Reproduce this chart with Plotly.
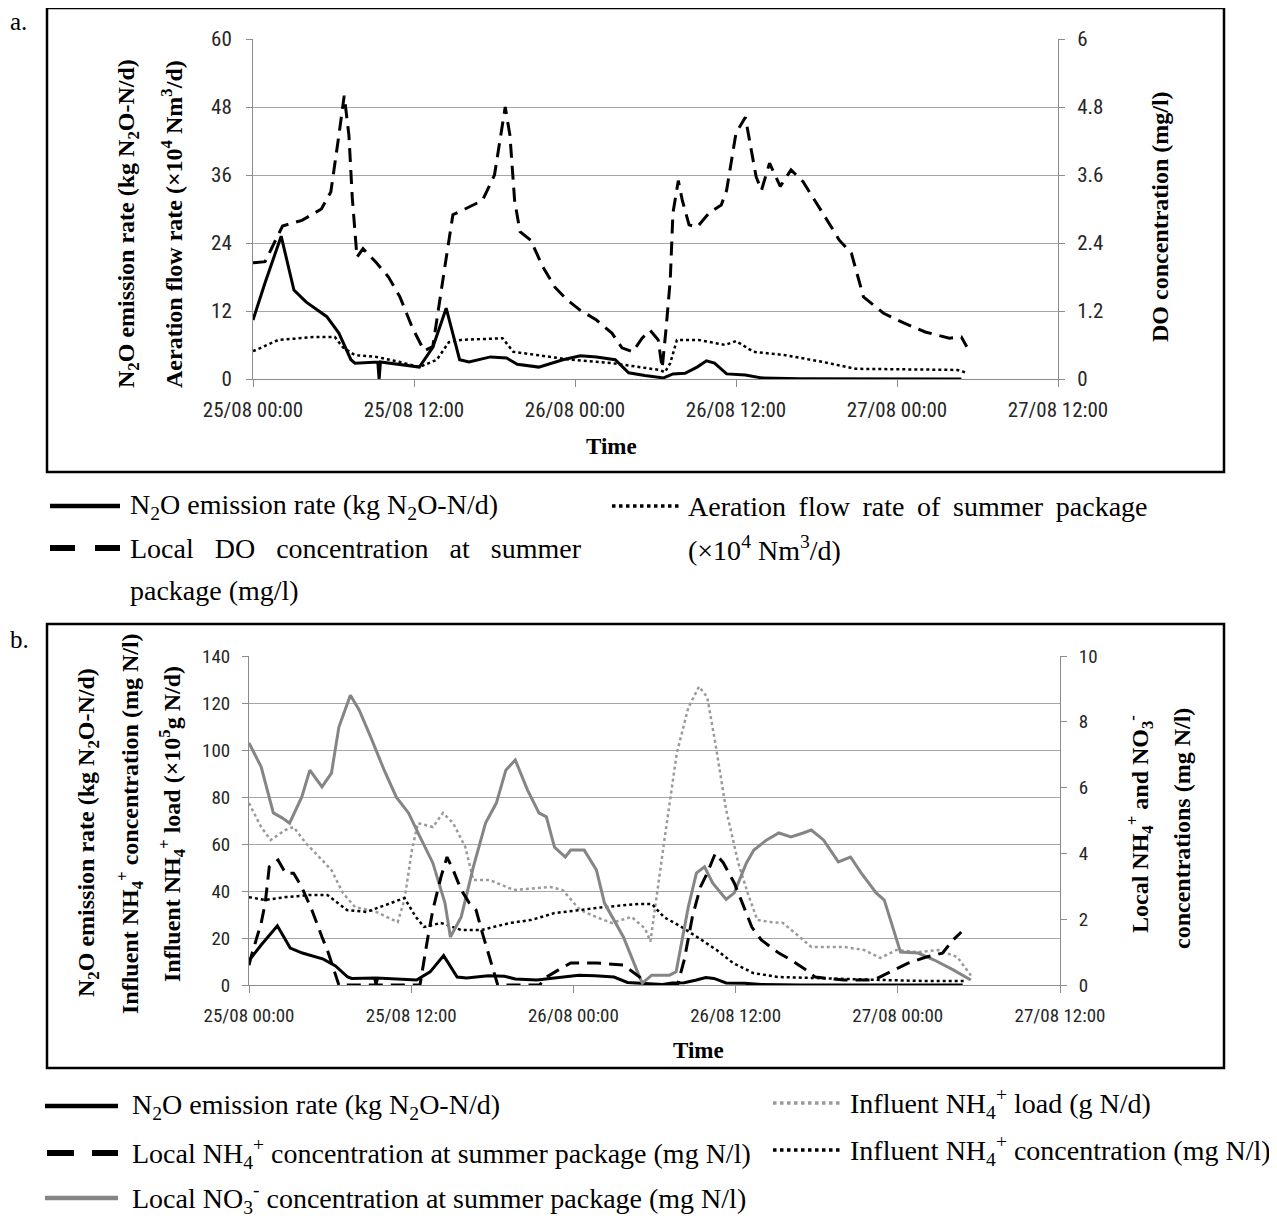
import plotly.graph_objects as go

# page size and the browser's default 8px body margin
PAGE_W, PAGE_H = 1277, 1218
OFF = 8
W, H = PAGE_W - OFF, PAGE_H - OFF

# ---------------- data ----------------
x_ticks = [0, 12, 24, 36, 48, 60]
x_labels = ["25/08 00:00", "25/08 12:00", "26/08 00:00", "26/08 12:00", "27/08 00:00", "27/08 12:00"]

# Panel a (hours since 25/08 00:00)
n2o_t = [0, 0.9, 2.1, 3.05, 3.95, 5.5, 6.4, 7.3, 7.6, 9.3, 9.4, 9.5, 12.4, 13.4, 14.4, 15.4, 16.1, 17.7,
         18.9, 19.7, 21.3, 23.1, 24.4, 25.6, 27.0, 28.0, 29.2, 30.6, 31.3, 32.2, 33.1, 33.8, 34.4, 35.3,
         36.7, 37.9, 40.8, 52.8]
n2o_v = [10.4, 17, 25.2, 15.7, 13.6, 11, 8.1, 3.4, 2.8, 3.0, 0, 3.0, 2.1, 5.6, 12.5, 3.4, 3, 3.9,
         3.7, 2.6, 2.1, 3.4, 4.1, 3.9, 3.4, 1.1, 0.6, 0.2, 0.9, 1.0, 2.1, 3.2, 2.8, 0.9,
         0.7, 0.2, 0.05, 0.0]

air_t = [0, 1.9, 3.05, 4.5, 6.1, 6.7, 7.6, 9.2, 10.95, 12.4, 13.7, 14.6, 15.5, 18.6, 19.4, 21.3, 23.7,
         26.75, 28.8, 30.3, 30.7, 31.1, 31.6, 33.2, 35.2, 36.0, 37.3, 39.7, 42.5, 44.9, 52.5, 53.2]
air_v = [4.9, 6.9, 7.1, 7.4, 7.4, 5.6, 4.2, 3.9, 3.0, 2.1, 3.4, 6.5, 6.9, 7.2, 4.8, 4.2, 3.4,
         2.8, 2.1, 1.6, 1.2, 2.8, 6.9, 6.9, 6.0, 6.7, 4.8, 4.2, 3.0, 1.8, 1.6, 1.1]

do_t = [0, 0.9, 2.2, 3.65, 5.1, 5.8, 6.4, 6.8, 7.15, 7.4, 7.75, 8.2, 9.2, 10.1, 10.95, 11.85, 12.75,
        13.4, 14.3, 14.9, 15.8, 17.1, 18.0, 18.8, 19.15, 19.5, 19.9, 20.7, 21.6, 22.5, 23.4, 24.35,
        25.6, 26.75, 27.5, 28.3, 29.0, 29.6, 30.2, 30.5, 30.8, 31.1, 31.3, 31.7, 32.0, 32.5, 33.1,
        34.0, 34.9, 35.3, 36.0, 36.7, 37.0, 37.5, 37.9, 38.5, 39.3, 40.1, 41.0, 41.9, 42.8, 43.7,
        44.6, 45.5, 46.1, 47.0, 48.5, 50.1, 51.9, 52.8, 53.2]
do_v = [2.05, 2.07, 2.7, 2.8, 3.0, 3.3, 4.3, 5.0, 4.3, 3.2, 2.15, 2.3, 2.05, 1.8, 1.45, 0.92, 0.5,
        0.57, 1.98, 2.9, 3.0, 3.15, 3.6, 4.8, 4.3, 3.15, 2.6, 2.45, 1.98, 1.62, 1.4, 1.22,
        1.04, 0.81, 0.55, 0.48, 0.72, 0.86, 0.69, 0.19, 0.92, 1.75, 2.93, 3.5, 3.15, 2.72, 2.68,
        2.93, 3.07, 3.33, 4.34, 4.62, 4.22, 3.57, 3.33, 3.81, 3.4, 3.69, 3.48, 3.15, 2.8, 2.45,
        2.22, 1.45, 1.34, 1.16, 0.99, 0.83, 0.72, 0.74, 0.57]

# Panel b
no3_t = [0, 0.9, 1.8, 2.45, 3.0, 3.9, 4.5, 5.4, 6.1, 6.65, 7.5, 8.15, 9.0, 10.0, 10.9, 11.8, 12.65,
         13.6, 14.5, 14.9, 15.7, 16.6, 17.5, 18.3, 19.0, 19.7, 20.6, 21.45, 22.0, 22.6, 23.4, 23.8,
         24.8, 25.7, 26.3, 27.7, 28.9, 29.1, 29.8, 31.1, 31.6, 32.5, 33.1, 33.7, 34.3, 35.3, 35.9,
         36.8, 37.35, 38.3, 39.2, 40.1, 41.0, 41.6, 42.5, 43.6, 44.5, 45.3, 46.4, 47.0, 48.2, 49.5,
         50.7, 52.1, 53.4]
no3_v = [7.36, 6.63, 5.23, 5.08, 4.92, 5.71, 6.53, 6.02, 6.44, 7.84, 8.81, 8.36, 7.54, 6.53, 5.71, 5.23, 4.5,
         3.71, 2.49, 1.46, 2.07, 3.59, 4.92, 5.53, 6.53, 6.84, 5.93, 5.23, 5.11, 4.19, 3.89, 4.1,
         4.1, 3.5, 2.49, 1.46, 0.24, 0.06, 0.3, 0.3, 0.4, 2.37, 3.4, 3.59, 3.1, 2.6, 2.8,
         3.71, 4.1, 4.41, 4.62, 4.5, 4.62, 4.71, 4.41, 3.74, 3.89, 3.4, 2.8, 2.58, 1.0, 0.97,
         0.76, 0.46, 0.15]

nh4_t = [0, 0.15, 0.9, 1.2, 1.5, 2.15, 2.7, 3.3, 3.9, 4.65, 5.4, 5.8, 6.65, 12.65, 13.2, 13.6, 14.2,
         14.65, 15.1, 15.7, 16.3, 16.8, 17.2, 17.7, 18.4, 21.5, 22.0, 22.9, 23.8, 25.7, 27.7, 28.9,
         29.5, 31.7, 32.2, 32.8, 33.4, 33.9, 34.5, 35.1, 35.9, 36.5, 37.2, 37.9, 39.2, 40.1, 41.0,
         41.9, 44.0, 46.2, 47.3, 48.8, 50.1, 51.3, 52.1, 52.7]
nh4_v = [0.6, 0.85, 1.88, 2.49, 3.59, 3.8, 3.4, 3.4, 2.98, 2.28, 1.46, 1.06, 0, 0, 1.37, 2.28, 3.28,
         3.89, 3.5, 2.89, 2.49, 2.28, 1.67, 0.97, 0, 0, 0.24, 0.46, 0.67, 0.67, 0.61, 0.24,
         0, 0, 0.76, 2.07, 2.98, 3.4, 4.0, 3.71, 3.1, 2.49, 1.76, 1.37, 0.97, 0.76, 0.52,
         0.24, 0.15, 0.15, 0.36, 0.67, 0.85, 0.97, 1.37, 1.61]

load_t = [0, 0.9, 1.6, 2.7, 3.3, 4.2, 5.4, 6.1, 6.95, 7.85, 9.4, 10.6, 11.0, 11.5, 12.05, 12.5, 13.6,
          14.35, 15.1, 16.0, 16.6, 17.8, 19.6, 22.3, 23.2, 24.5, 25.7, 26.85, 28.3, 29.3, 29.7, 30.7,
          31.65, 32.5, 33.3, 33.9, 34.5, 35.3, 36.2, 36.9, 37.6, 38.6, 39.5, 40.4, 41.6, 44.0, 45.5,
          46.7, 47.9, 49.5, 51.0, 52.4, 53.1, 53.55]
load_v = [77.4, 67.2, 61.7, 66, 67.2, 60.4, 53.2, 48.9, 39.1, 33.2, 31.1, 27.7, 26.8, 36.2, 57.4, 68.9, 67.2,
          73.2, 68.9, 58.7, 44.7, 44.7, 40.4, 41.7, 40.4, 31.9, 28.9, 26.4, 29, 24, 18.5, 60.4,
          98.7, 118, 127, 122.5, 103, 74.5, 51.9, 39.1, 27.7, 26.8, 26.4, 22.1, 16.2, 16.2, 14.9,
          11.5, 14.9, 14.0, 14.9, 11.9, 6.4, 3.0]

conc_t = [0, 1.2, 2.7, 4.5, 5.8, 7.25, 8.7, 10.6, 11.5, 12.35, 12.95, 14.2, 15.7, 17.2, 19.3, 20.9, 22.6,
          24.5, 26.3, 28.9, 29.8, 30.7, 32.0, 33.4, 34.6, 35.8, 37.3, 39.1, 41.0, 44.0, 47.0, 50.1, 53.1]
conc_v = [37.4, 36.2, 37.4, 38.3, 38.3, 31.9, 31.1, 34.9, 37, 28.9, 24.7, 26.4, 23.4, 23.4, 26.4, 27.7, 30.6,
          31.9, 33.2, 34.5, 34.5, 28.9, 24.7, 19.5, 14.9, 9.4, 5.1, 3.4, 3.0, 2.6, 2.1, 1.7, 1.7]

# ---------------- helpers (page pixel -> paper coords) ----------------
def PX(x):
    return (x - OFF) / W

def PY(y):
    return 1 - (y - OFF) / H

SERIF = "Liberation Serif, Times New Roman, serif"
TICKF = "Liberation Sans Narrow, Arial Narrow, Roboto Condensed, Roboto, sans-serif"
AX = "#8c8c8c"
GRID = "#a6a6a6"

fig = go.Figure()

# Panel a traces
fig.add_trace(go.Scatter(x=air_t, y=air_v, xaxis="x", yaxis="y", mode="lines",
                         line=dict(color="black", width=2.5, dash="dot")))
fig.add_trace(go.Scatter(x=do_t, y=do_v, xaxis="x", yaxis="y2", mode="lines",
                         line=dict(color="black", width=3, dash="14px,8px")))
fig.add_trace(go.Scatter(x=n2o_t, y=n2o_v, xaxis="x", yaxis="y", mode="lines",
                         line=dict(color="black", width=3)))

# Panel b traces
fig.add_trace(go.Scatter(x=load_t, y=load_v, xaxis="x2", yaxis="y3", mode="lines",
                         line=dict(color="#9a9a9a", width=2.5, dash="dot")))
fig.add_trace(go.Scatter(x=conc_t, y=conc_v, xaxis="x2", yaxis="y3", mode="lines",
                         line=dict(color="black", width=2.5, dash="dot")))
fig.add_trace(go.Scatter(x=no3_t, y=no3_v, xaxis="x2", yaxis="y4", mode="lines",
                         line=dict(color="#858585", width=3)))
fig.add_trace(go.Scatter(x=nh4_t, y=nh4_v, xaxis="x2", yaxis="y4", mode="lines",
                         line=dict(color="black", width=3, dash="14px,8px")))
fig.add_trace(go.Scatter(x=n2o_t, y=n2o_v, xaxis="x2", yaxis="y3", mode="lines",
                         line=dict(color="black", width=3)))

tickfont_a = dict(family=TICKF, size=21, color="#262626")
tickfont_b = dict(family=TICKF, size=19, color="#262626")

common_x = dict(range=[0, 60], tickvals=x_ticks, ticktext=x_labels, ticks="outside", ticklen=7,
                tickcolor=AX, showline=True, linecolor=AX, linewidth=1, showgrid=False, zeroline=False,
                automargin=False)
common_y = dict(ticks="outside", ticklen=6, tickcolor=AX, showline=True, linecolor=AX, linewidth=1,
                zeroline=False, automargin=False)

fig.update_layout(
    width=W, height=H, autosize=False, showlegend=False,
    margin=dict(l=0, r=0, t=0, b=0, pad=0),
    paper_bgcolor="white", plot_bgcolor="white",
    xaxis=dict(domain=[PX(253), PX(1058)], anchor="y", tickfont=tickfont_a, ticklabelstandoff=5, **common_x),
    yaxis=dict(domain=[PY(379), PY(39)], anchor="x", range=[0, 60], tick0=0, dtick=12,
               showgrid=True, gridcolor=GRID, gridwidth=1.2, tickfont=tickfont_a, ticklabelstandoff=10, **common_y),
    yaxis2=dict(overlaying="y", side="right", anchor="x", range=[0, 6],
                tickvals=[0, 1.2, 2.4, 3.6, 4.8, 6], ticktext=["0", "1.2", "2.4", "3.6", "4.8", "6"],
                showgrid=False, tickfont=tickfont_a, ticklabelstandoff=8, **common_y),
    xaxis2=dict(domain=[PX(249), PX(1060)], anchor="y3", tickfont=tickfont_b, ticklabelstandoff=6, **common_x),
    yaxis3=dict(domain=[PY(985), PY(656)], anchor="x2", range=[0, 140], tick0=0, dtick=20,
                showgrid=True, gridcolor=GRID, gridwidth=1.2, tickfont=tickfont_b, ticklabelstandoff=8, **common_y),
    yaxis4=dict(overlaying="y3", side="right", anchor="x2", range=[0, 10], tick0=0, dtick=2,
                showgrid=False, tickfont=tickfont_b, ticklabelstandoff=8, **common_y),
)

shapes = []
# frames
shapes.append(dict(type="rect", xref="paper", yref="paper", x0=PX(47), x1=PX(1224), y0=PY(472), y1=PY(8),
                   line=dict(color="black", width=2.5)))
shapes.append(dict(type="rect", xref="paper", yref="paper", x0=PX(47), x1=PX(1224), y0=PY(1068), y1=PY(624),
                   line=dict(color="black", width=2.5)))

def seg(x0, x1, y, color="black", width=4, dash="solid"):
    shapes.append(dict(type="line", xref="paper", yref="paper", x0=PX(x0), x1=PX(x1), y0=PY(y), y1=PY(y),
                       line=dict(color=color, width=width, dash=dash)))

# legend keys a
seg(50, 120, 506, width=4.5)
seg(50, 75, 548, width=6)
seg(95, 120, 548, width=6)
seg(612, 680, 506, width=3.5, dash="dot")
# legend keys b
seg(45, 118, 1106, width=4.5)
seg(47, 74, 1153, width=6)
seg(92, 118, 1153, width=6)
seg(45, 118, 1198, color="#858585", width=4.5)
seg(773, 840, 1103, color="#9a9a9a", width=3.5, dash="dot")
seg(773, 840, 1150, width=3.5, dash="dot")

fig.update_layout(shapes=shapes)

ann = []

def text(x, y, s, size=28, anchor="left", bold=False, angle=0, family=SERIF):
    ann.append(dict(xref="paper", yref="paper", x=PX(x), y=PY(y), text=(f"<b>{s}</b>" if bold else s),
                    showarrow=False, xanchor=anchor, yanchor="middle", textangle=angle,
                    font=dict(family=family, size=size, color="black")))

TS = 24  # axis title size

# panel labels
text(8, 22, "a.", size=25)
text(8, 639, "b.", size=25)

# panel a axis titles
text(128, 224, "N<sub>2</sub>O emission rate (kg N<sub>2</sub>O-N/d)", size=TS, anchor="center", bold=True, angle=-90)
text(172, 224, "Aeration flow rate (×10<sup>4</sup> Nm<sup>3</sup>/d)", size=TS, anchor="center", bold=True, angle=-90)
text(1160, 217, "DO concentration (mg/l)", size=TS, anchor="center", bold=True, angle=-90)
text(611, 447, "Time", size=23, anchor="center", bold=True)

# panel b axis titles
text(88, 832, "N<sub>2</sub>O emission rate (kg N<sub>2</sub>O-N/d)", size=TS, anchor="center", bold=True, angle=-90)
text(130, 824, "Influent NH<sub>4</sub><sup>+</sup> concentration (mg N/l)", size=TS, anchor="center", bold=True, angle=-90)
text(172, 824, "Influent NH<sub>4</sub><sup>+</sup> load (×10<sup>5</sup>g N/d)", size=TS, anchor="center", bold=True, angle=-90)
text(1140, 824, "Local NH<sub>4</sub><sup>+</sup> and NO<sub>3</sub><sup>-</sup>", size=TS, anchor="center", bold=True, angle=-90)
text(1182, 829, "concentrations (mg N/l)", size=TS, anchor="center", bold=True, angle=-90)
text(698, 1050, "Time", size=23, anchor="center", bold=True)

# legend a texts (justified lines approximated with wider spaces)
NB = "\u00a0"
G4 = NB * 3
G2 = NB + "\u2009"
text(128, 506, "N<sub>2</sub>O emission rate (kg N<sub>2</sub>O-N/d)")
text(128, 548, ("Local" + G4 + "DO" + G4 + "concentration" + G4 + "at" + G4 + "summer"))
text(128, 590, "package (mg/l)")
text(686, 506, ("Aeration" + G2 + "flow" + G2 + "rate" + G2 + "of" + G2 + "summer" + G2 + "package"))
text(686, 548, "(×10<sup>4</sup> Nm<sup>3</sup>/d)")

# legend b texts
text(130, 1106, "N<sub>2</sub>O emission rate (kg N<sub>2</sub>O-N/d)")
text(130, 1153, "Local NH<sub>4</sub><sup>+</sup> concentration at summer package (mg N/l)")
text(130, 1198, "Local NO<sub>3</sub><sup>-</sup> concentration at summer package (mg N/l)")
text(848, 1103, "Influent NH<sub>4</sub><sup>+</sup> load (g N/d)")
text(848, 1150, "Influent NH<sub>4</sub><sup>+</sup> concentration (mg N/l)")

fig.update_layout(annotations=ann)

fig.write_html("out.html")
